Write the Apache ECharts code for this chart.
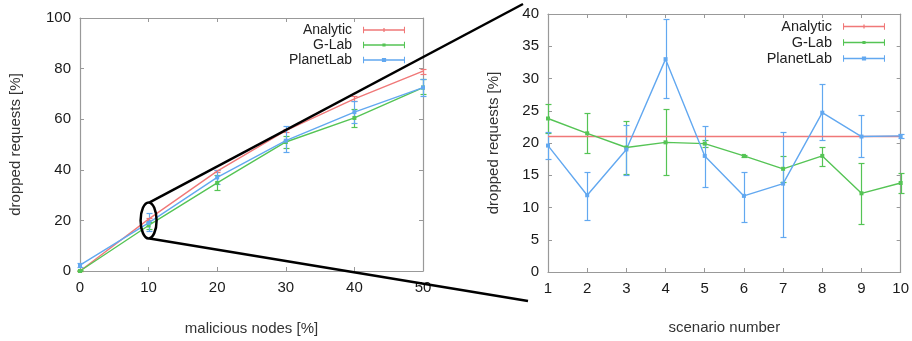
<!DOCTYPE html>
<html>
<head>
<meta charset="utf-8">
<script src="https://cdn.jsdelivr.net/npm/echarts@6/dist/echarts.min.js"></script>
<style>
  html, body { margin: 0; padding: 0; background: #fff; }
  #chart { width: 912px; height: 341px; }
</style>
</head>
<body>
<div id="chart"></div>
<script>
// left panel: dropped requests vs malicious nodes
const nodesPct = [0, 10, 20, 30, 40, 50];
const leftAnalytic = [0, 20.5, 39.5, 55.5, 68, 79];
const leftAnalyticErr = [[0, 0], [20, 21], [39, 40], [55, 56], [67, 69], [78, 80]];
const leftGLab = [0, 18, 34.8, 51, 60.5, 72.5];
const leftGLabErr = [[0, 0.5], [16.5, 19.5], [32, 38], [48.5, 53.5], [57, 64], [70, 76]];
const leftPlanet = [2.3, 19, 37, 51.5, 62.8, 72.5];
const leftPlanetErr = [[1.5, 3], [16, 23], [34.5, 40], [47, 57.5], [58.5, 67], [69, 76]];

// right panel: zoom on 10% malicious nodes, per scenario
const scenarios = [1, 2, 3, 4, 5, 6, 7, 8, 9, 10];
const rightAnalytic = [21, 21, 21, 21, 21, 21, 21, 21, 21, 21];
const rightGLab = [23.8, 21.5, 19.3, 20.1, 19.9, 18, 16, 18, 12.2, 13.8];
const rightGLabErr = [[21.5, 26], [18.4, 24.6], [15.2, 23.4], [15, 25.2], [19.4, 20.4], [17.8, 18.2], [14, 18], [16.5, 19.4], [7.5, 16.9], [12.2, 15.3]];
const rightPlanet = [19.6, 11.9, 19, 33, 18, 11.8, 13.7, 24.7, 21, 21.1];
const rightPlanetErr = [[17.5, 21.7], [8.1, 15.5], [15, 22.8], [27, 39.3], [13.2, 22.6], [7.8, 15.5], [5.4, 21.7], [20.5, 29.1], [17.8, 24.4], [20.8, 21.4]];

const RED = '#f07878';
const GREEN = '#55c455';
const BLUE = '#62a8f0';
const AXIS = '#999999';
const FONT = 'Liberation Sans, Arial, sans-serif';

const chart = echarts.init(document.getElementById('chart'));

function pairs(xs, ys) { return xs.map((x, i) => [x, ys[i]]); }
function errData(xs, e) { return xs.map((x, i) => [x, e[i][0], e[i][1]]); }

function errorBars(name, xs, e, color, idx) {
  return {
    name, type: 'custom', xAxisIndex: idx, yAxisIndex: idx, z: 3,
    data: errData(xs, e),
    renderItem: function (params, api) {
      const lo = api.coord([api.value(0), api.value(1)]);
      const hi = api.coord([api.value(0), api.value(2)]);
      const x = Math.round(lo[0]) + 0.5;
      const y1 = Math.round(lo[1]) + 0.5;
      const y2 = Math.round(hi[1]) + 0.5;
      const w = 3;
      const st = { stroke: color, lineWidth: 1.2 };
      return {
        type: 'group',
        children: [
          { type: 'line', shape: { x1: x, y1: y1, x2: x, y2: y2 }, style: st },
          { type: 'line', shape: { x1: x - w, y1: y1, x2: x + w, y2: y1 }, style: st },
          { type: 'line', shape: { x1: x - w, y1: y2, x2: x + w, y2: y2 }, style: st }
        ]
      };
    }
  };
}

function lineSeries(name, xs, ys, color, idx, symbol) {
  return {
    name, type: 'line', xAxisIndex: idx, yAxisIndex: idx, z: 4,
    data: pairs(xs, ys),
    symbol: symbol, symbolSize: 4, showSymbol: true,
    lineStyle: { color, width: 1.4 },
    itemStyle: { color }
  };
}

const legendIcons = {
  'Analytic': 'path://M0,4.4h40v1.2h-40z M0,2h1v6h-1z M39,2h1v6h-1z M19.4,3h1.2v4h-1.2z',
  'G-Lab': 'path://M0,4.4h40v1.2h-40z M0,2h1v6h-1z M39,2h1v6h-1z M18.5,3.5h3v3h-3z',
  'PlanetLab': 'path://M0,4.4h40v1.2h-40z M0,2h1v6h-1z M39,2h1v6h-1z M18,3h4v4h-4z'
};

function legend(right, top, size) {
  return {
    orient: 'vertical', right, top, align: 'right',
    itemWidth: 42, itemHeight: 10, itemGap: 1,
    selectedMode: false,
    textStyle: { fontFamily: FONT, fontSize: size, color: '#222', padding: [0, 6, 0, 0] },
    data: ['Analytic', 'G-Lab', 'PlanetLab'].map(n => ({ name: n, icon: legendIcons[n] }))
  };
}

const tick = { show: true, inside: true, length: 4, lineStyle: { color: AXIS } };
const line = { show: true, onZero: false, lineStyle: { color: AXIS, width: 1.2 } };
const nameStyle = { fontFamily: FONT, fontSize: 15, color: '#333' };

function xPair(idx, min, max, interval, fontSize, name, nameGap) {
  return [
    {
      type: 'value', gridIndex: idx, min, max, interval, position: 'bottom',
      axisLine: line, axisTick: tick, splitLine: { show: false },
      axisLabel: { color: '#1a1a1a', fontFamily: FONT, fontSize, margin: 9 },
      name, nameLocation: 'middle', nameGap, nameTextStyle: nameStyle
    },
    {
      type: 'value', gridIndex: idx, min, max, interval, position: 'top',
      axisLine: line, axisTick: tick, axisLabel: { show: false }, splitLine: { show: false }
    }
  ];
}

function yPair(idx, min, max, interval, fontSize, nameGap) {
  return [
    {
      type: 'value', gridIndex: idx, min, max, interval, position: 'left',
      axisLine: line, axisTick: tick, splitLine: { show: false },
      axisLabel: { color: '#1a1a1a', fontFamily: FONT, fontSize, margin: 9 },
      name: 'dropped requests [%]', nameLocation: 'middle', nameGap, nameTextStyle: nameStyle
    },
    {
      type: 'value', gridIndex: idx, min, max, interval, position: 'right',
      axisLine: line, axisTick: tick, axisLabel: { show: false }, splitLine: { show: false }
    }
  ];
}

const xs0 = xPair(0, 0, 50, 10, 15, 'malicious nodes [%]', 50);
const xs1 = xPair(1, 1, 10, 1, 15, 'scenario number', 48);
const ys0 = yPair(0, 0, 100, 20, 15, 57);
const ys1 = yPair(1, 0, 40, 5, 15, 47);

const option = {
  backgroundColor: '#fff',
  animation: false,
  color: [RED, GREEN, BLUE],
  grid: [
    { left: 80, right: 489, top: 18, bottom: 68 },
    { left: 548, right: 9, top: 14, bottom: 69 }
  ],
  legend: [legend(502, 18, 14), legend(22, 14, 14.5)],
  xAxis: [xs0[0], xs0[1], xs1[0], xs1[1]],
  yAxis: [ys0[0], ys0[1], ys1[0], ys1[1]],
  series: [
    errorBars('Analytic', nodesPct, leftAnalyticErr, RED, 0),
    errorBars('G-Lab', nodesPct, leftGLabErr, GREEN, 0),
    errorBars('PlanetLab', nodesPct, leftPlanetErr, BLUE, 0),
    lineSeries('Analytic', nodesPct, leftAnalytic, RED, 0, 'none'),
    lineSeries('G-Lab', nodesPct, leftGLab, GREEN, 0, 'rect'),
    lineSeries('PlanetLab', nodesPct, leftPlanet, BLUE, 0, 'rect'),
    errorBars('G-Lab', scenarios, rightGLabErr, GREEN, 2),
    errorBars('PlanetLab', scenarios, rightPlanetErr, BLUE, 2),
    lineSeries('Analytic', scenarios, rightAnalytic, RED, 2, 'none'),
    lineSeries('G-Lab', scenarios, rightGLab, GREEN, 2, 'rect'),
    lineSeries('PlanetLab', scenarios, rightPlanet, BLUE, 2, 'rect')
  ]
};

chart.setOption(option);

// zoom marker: ellipse round the 10% point on the left, lines to the right panel
const c = chart.convertToPixel({ xAxisIndex: 0, yAxisIndex: 0 }, [10, 20]);
const rTop = chart.convertToPixel({ xAxisIndex: 2, yAxisIndex: 2 }, [1, 40]);
const rBot = chart.convertToPixel({ xAxisIndex: 2, yAxisIndex: 2 }, [1, 0]);
const rx = 8, ry = 18;
chart.setOption({
  graphic: [
    { type: 'ellipse', z: 100, shape: { cx: c[0], cy: c[1], rx, ry }, style: { fill: 'none', stroke: '#000', lineWidth: 2.5 } },
    { type: 'line', z: 100, shape: { x1: c[0] + 1, y1: c[1] - ry, x2: rTop[0] - 25, y2: rTop[1] - 10 }, style: { stroke: '#000', lineWidth: 2.5 } },
    { type: 'line', z: 100, shape: { x1: c[0] + 1, y1: c[1] + ry, x2: rBot[0] - 20, y2: rBot[1] + 29 }, style: { stroke: '#000', lineWidth: 2.5 } }
  ]
});
</script>
</body>
</html>
